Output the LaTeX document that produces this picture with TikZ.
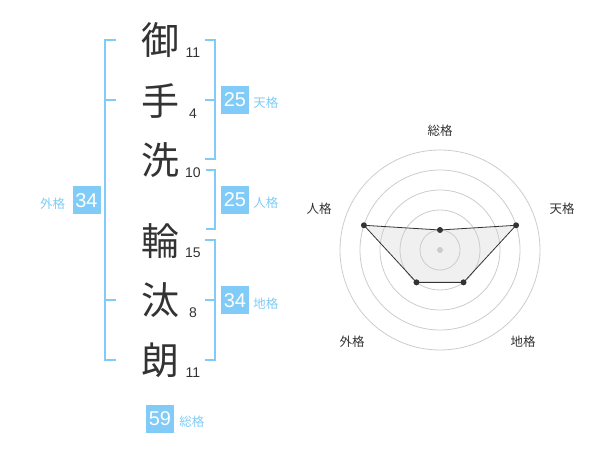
\documentclass[tikz,border=0pt]{standalone}
\usepackage{fontspec}
\setmainfont{Liberation Sans}
\newfontfamily\jp{Noto Sans CJK JP}
\usetikzlibrary{positioning}
\definecolor{hell}{HTML}{80CBF7}
\definecolor{dunkel}{HTML}{333333}
\definecolor{ring}{HTML}{CCCCCC}
\tikzset{
	zeichen/.style={font=\jp\fontsize{38}{38}\selectfont, text=dunkel, inner sep=0pt},
	strich/.style={font=\fontsize{14}{14}\selectfont, text=dunkel, inner sep=0pt},
	wert/.style={fill=hell, text=white, minimum size=28pt, inner sep=0pt, font=\fontsize{20}{20}\selectfont},
	kaku/.style={font=\jp\fontsize{12.5}{12.5}\selectfont, text=hell, inner sep=0pt},
	klammer/.style={draw=hell, line width=2pt},
	achse/.style={font=\jp\fontsize{12.5}{12.5}\selectfont, text=dunkel, inner sep=0pt},
	punkt/.style={circle, fill=dunkel, inner sep=0pt, minimum size=6pt},
}
\begin{document}
\begin{tikzpicture}[x=1pt,y=-1pt]
	\useasboundingbox (0,0) rectangle (600,470);
	% Name
	\node[zeichen] (z1) at (160,40) {御};
	\node[zeichen] (z2) at (160,101) {手};
	\node[zeichen] (z3) at (160,160) {洗};
	\node[zeichen] (z4) at (160,241) {輪};
	\node[zeichen] (z5) at (160,300) {汰};
	\node[zeichen] (z6) at (160,360) {朗};
	\node[strich] (n1) at (193,53) {11};
	\node[strich] (n2) at (193,114) {4};
	\node[strich] (n3) at (193,173) {10};
	\node[strich] (n4) at (193,253) {15};
	\node[strich] (n5) at (193,313) {8};
	\node[strich] (n6) at (193,373) {11};
	% Klammern
	\draw[klammer] (116,40) coordinate(aussen1) -- ++(-11,0) |- (116,360) coordinate(aussen2);
	\draw[klammer] (105,100) -- ++(11,0);
	\draw[klammer] (105,300) -- ++(11,0);
	\draw[klammer] (205,40) coordinate(himmel1) -- ++(10,0) |- (205,159) coordinate(himmel2);
	\draw[klammer] (215,100) -- ++(-10,0);
	\draw[klammer] (206,170) coordinate(mensch1) -- ++(9,0) |- (206,229) coordinate(mensch2);
	\draw[klammer] (205,240) coordinate(erde1) -- ++(10,0) |- (205,360) coordinate(erde2);
	\draw[klammer] (215,300) -- ++(-10,0);
	% Werte
	\node[wert] (w1) at (235,100) {25};
	\node[kaku, right=4pt of w1, yshift=-3pt] {天格};
	\node[wert] (w2) at (235,200) {25};
	\node[kaku, right=4pt of w2, yshift=-3pt] {人格};
	\node[wert] (w3) at (235,300.5) {34};
	\node[kaku, right=4pt of w3, yshift=-3pt] {地格};
	\node[wert] (w4) at (86.5,200.5) {34};
	\node[kaku, left=7pt of w4, yshift=-3pt] {外格};
	\node[wert] (w5) at (160,419) {59};
	\node[kaku, right=5pt of w5, yshift=-3pt] {総格};
	% Radar
	\begin{scope}[shift={(440,250)},yscale=-1]
		\path (90:20) coordinate(s) (18:80) coordinate(t) (-54:40) coordinate(c)
			(234:40) coordinate(g) (162:80) coordinate(j);
		\fill[black!6] (s) -- (t) -- (c) -- (g) -- (j) -- cycle;
		\foreach \r in {20,40,...,100}
			\draw[ring, line width=0.8pt] (0,0) circle[radius=\r pt];
		\fill[ring] (0,0) circle[radius=3pt];
		\draw[dunkel, line width=0.8pt] (s) -- (t) -- (c) -- (g) -- (j) -- cycle;
		\foreach \p in {s,t,c,g,j}
			\node[punkt] at (\p) {};
		\node[achse] (a1) at (0,119) {総格};
		\node[achse] (a2) at (122,41) {天格};
		\node[achse] (a3) at (-121,41) {人格};
		\node[achse] (a4) at (83,-92) {地格};
		\node[achse] (a5) at (-88,-92) {外格};
	\end{scope}
\end{tikzpicture}
\end{document}
